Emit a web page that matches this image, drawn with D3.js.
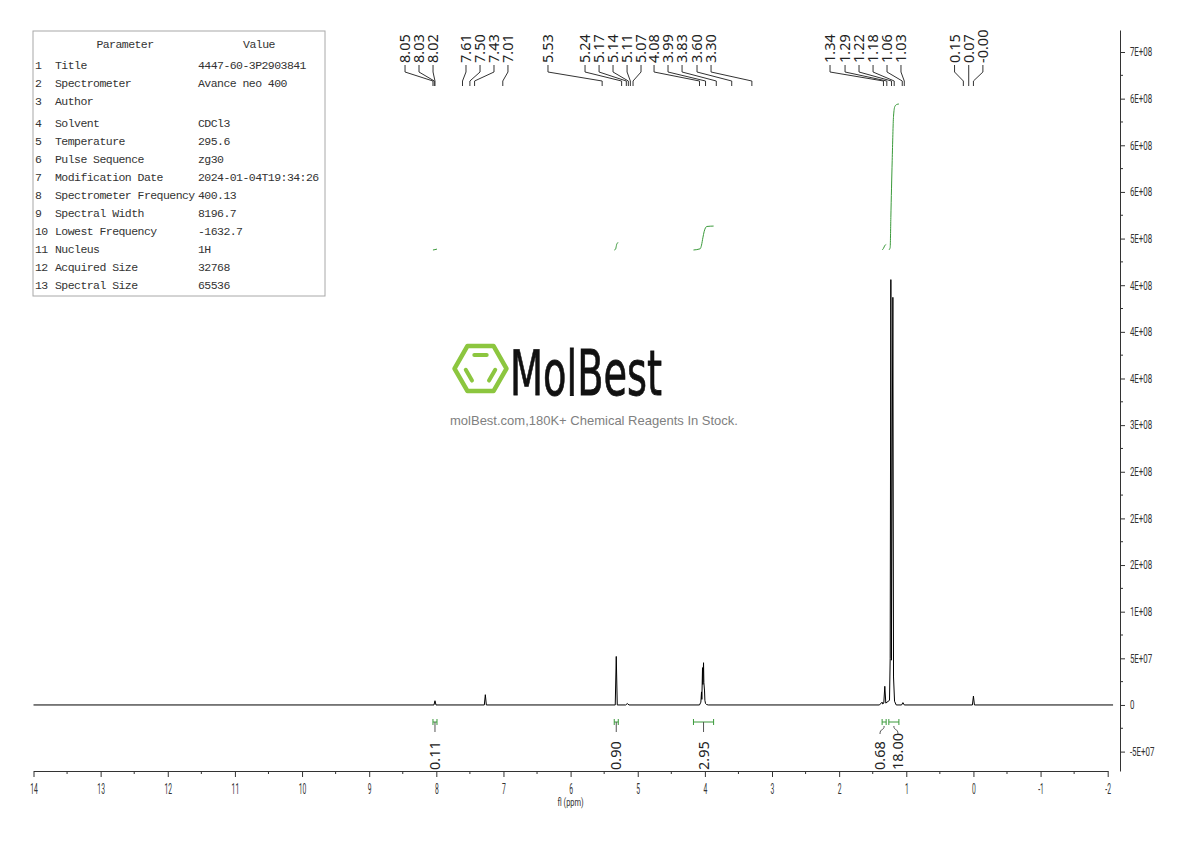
<!DOCTYPE html>
<html><head><meta charset="utf-8">
<script src="https://cdn.jsdelivr.net/npm/d3@7"></script>
<style>body{margin:0;background:#fff}svg{display:block}</style>
</head><body>
<svg id="c" width="1190" height="841"></svg>
<script>
// ---------------- data ----------------
const paramNames = ["Title","Spectrometer","Author","Solvent","Temperature","Pulse Sequence","Modification Date","Spectrometer Frequency","Spectral Width","Lowest Frequency","Nucleus","Acquired Size","Spectral Size"];
const paramValues = ["4447-60-3P2903841","Avance neo 400","","CDCl3","295.6","zg30","2024-01-04T19:34:26","400.13","8196.7","-1632.7","1H","32768","65536"];

// spectrum trace (ppm, intensity)
const specPpm = [14.0, 8.035,8.02,8.005, 7.285,7.27,7.255, 5.335,5.32,5.305, 5.18,5.155,5.13,
  4.08,4.06,4.05,4.045,4.035,4.03,4.02,4.015,4.005,4.0,3.99,3.975,3.95,
  1.40,1.36,1.35,1.335,1.32,1.305,1.25,1.24,1.23,1.222,1.20,1.19,1.175,1.15,
  1.07,1.05,1.03, 0.015,0.0,-0.015, -2.08];
const specInt = [0, 0,4.5e6,0, 0,1.1e7,0, 0,5.2e7,0, 0,1.5e6,0,
  0,3e6,1.4e7,6e6,4.0e7,2.2e7,4.53e7,2.4e7,1.5e7,5e6,1.5e6,5e5,0,
  0,3e6,1e6,2e6,2.0e7,2e6,5e6,5e7,4.56e8,4.8e7,4.37e8,3e7,4e6,0,
  0,2.5e6,0, 0,9.5e6,0, 0];

// peak picking labels
const peakLabels = ["8.05","8.03","8.02","7.61","7.50","7.43","7.01","5.53","5.24","5.17","5.14","5.11","5.07","4.08","3.99","3.83","3.60","3.30","1.34","1.29","1.22","1.18","1.06","1.03","0.15","0.07","-0.00"];
// label slot positions (ppm units) used by the label layout
const peakLabelSlots = [8.466,8.258,8.049,7.558,7.349,7.141,6.933,6.337,5.785,5.576,5.368,5.159,4.951,4.757,4.549,4.340,4.117,3.908,2.136,1.912,1.704,1.495,1.287,1.079,0.281,0.070,-0.141];

// integrals
const intFrom = [8.05,5.35,4.17,1.36,1.26];
const intTo = [7.99,5.29,3.87,1.30,1.11];
const intValues = ["0.11","0.90","2.95","0.68","18.00"];
const intCurvePpm = [
  [8.05,8.02,7.99],
  [5.35,5.33,5.32,5.31,5.29],
  [4.17,4.07,4.05,4.03,4.01,3.99,3.97,3.87],
  [1.36,1.34,1.32,1.30],
  [1.26,1.24,1.23,1.21,1.19,1.17,1.14,1.11]];
const intCurveVal = [
  [0,0.05,0.11],
  [0,0.1,0.45,0.8,0.9],
  [0,0.15,0.6,1.5,2.3,2.75,2.9,2.95],
  [0,0.2,0.55,0.68],
  [0,0.3,4,11,16.5,17.7,17.95,18.0]];

// axes
const xTickValues = [14,13,12,11,10,9,8,7,6,5,4,3,2,1,0,-1,-2];
const xTickLabels = ["14","13","12","11","10","9","8","7","6","5","4","3","2","1","0","-1","-2"];
const yTickValues = [-5e7,0,5e7,1e8,1.5e8,2e8,2.5e8,3e8,3.5e8,4e8,4.5e8,5e8,5.5e8,6e8,6.5e8,7e8];
const yTickLabels = ["-5E+07","0","5E+07","1E+08","2E+08","2E+08","2E+08","3E+08","4E+08","4E+08","4E+08","5E+08","6E+08","6E+08","6E+08","7E+08"];

// ---------------- drawing ----------------
const svg = d3.select("#c");
const x = d3.scaleLinear().domain([14,-2]).range([33.5,1107.7]);
const y = d3.scaleLinear().domain([-7.08e7,7.236e8]).range([771,30]);
const yI = d3.scaleLinear().domain([0,18]).range([250,104]);
const axisCol = "#333";
const green = "#3a9a3a";

// parameter table
const tbl = svg.append("g");
tbl.append("rect").attr("x",33).attr("y",31).attr("width",292).attr("height",265)
  .attr("fill","none").attr("stroke","#a8a8a8").attr("stroke-width",1);
const tf = {"font-family":"'Liberation Mono', 'DejaVu Sans Mono', monospace","font-size":"11.5px","letter-spacing":"-0.55px","fill":"#333"};
function tt(sel){Object.entries(tf).forEach(([k,v])=>sel.attr(k,v));return sel;}
tt(tbl.append("text").attr("x",125).attr("y",48).attr("text-anchor","middle").text("Parameter"));
tt(tbl.append("text").attr("x",259).attr("y",48).attr("text-anchor","middle").text("Value"));
paramNames.forEach((n,i)=>{
  const yy = 69 + i*18 + (i>=3?4:0);
  tt(tbl.append("text").attr("x",35).attr("y",yy).text(String(i+1)));
  tt(tbl.append("text").attr("x",55).attr("y",yy).text(n));
  tt(tbl.append("text").attr("x",198).attr("y",yy).text(paramValues[i]));
});

// watermark logo
const lg = svg.append("g");
const cx=480.5, cy=368.5, R=26;
const hex = d3.range(6).map(k=>[cx+R*Math.cos(k*Math.PI/3), cy+R*Math.sin(k*Math.PI/3)]);
lg.append("polygon").attr("points",hex.map(p=>p.join(",")).join(" "))
  .attr("fill","none").attr("stroke","#8cc63f").attr("stroke-width",4.5).attr("stroke-linejoin","round");
const Ri=15.5;
[[4,5],[3,2],[1,0]].forEach(([a,b])=>{
  const pa=[cx+Ri*Math.cos(a*Math.PI/3), cy+Ri*Math.sin(a*Math.PI/3)];
  const pb=[cx+Ri*Math.cos(b*Math.PI/3), cy+Ri*Math.sin(b*Math.PI/3)];
  const m=[(pa[0]+pb[0])/2,(pa[1]+pb[1])/2], f=0.8;
  lg.append("line").attr("x1",m[0]+(pa[0]-m[0])*f).attr("y1",m[1]+(pa[1]-m[1])*f)
    .attr("x2",m[0]+(pb[0]-m[0])*f).attr("y2",m[1]+(pb[1]-m[1])*f)
    .attr("stroke","#8cc63f").attr("stroke-width",4).attr("stroke-linecap","round");
});
lg.append("text").attr("x",510).attr("y",395).attr("font-family","'DejaVu Sans', sans-serif")
  .attr("font-size",62).attr("textLength",152).attr("lengthAdjust","spacingAndGlyphs")
  .attr("fill","#111").attr("stroke","#111").attr("stroke-width",0.8).text("MolBest");
lg.append("text").attr("x",594).attr("y",425).attr("text-anchor","middle")
  .attr("font-family","'Liberation Sans', Arial, sans-serif").attr("font-size",13)
  .attr("fill","#808080").text("molBest.com,180K+ Chemical Reagents In Stock.");

// x axis
const xAxis = svg.append("g").attr("transform","translate(0,771)")
  .call(d3.axisBottom(x).tickValues(xTickValues).tickFormat((d,i)=>xTickLabels[i]).tickSize(6).tickSizeOuter(0).tickPadding(6));
xAxis.select(".domain").attr("stroke",axisCol);
xAxis.selectAll(".tick line").attr("stroke",axisCol);
xAxis.selectAll("text").attr("font-family","Roboto, sans-serif").attr("font-size",15)
  .attr("fill","#333").attr("transform","scale(0.45,1)");
svg.append("g").selectAll("line").data(d3.range(13.5,-2,-1)).join("line")
  .attr("x1",d=>x(d)).attr("x2",d=>x(d)).attr("y1",771).attr("y2",774).attr("stroke",axisCol);
svg.append("text").attr("transform",`translate(${(x.range()[0]+x.range()[1])/2},806) scale(0.75,1)`)
  .attr("text-anchor","middle").attr("font-family","Roboto, sans-serif").attr("font-size",10)
  .attr("fill","#333").text("fl (ppm)");

// y axis
const yAxis = svg.append("g").attr("transform","translate(1120,0)")
  .call(d3.axisRight(y).tickValues(yTickValues).tickFormat((d,i)=>yTickLabels[i]).tickSize(5).tickSizeOuter(0).tickPadding(10));
yAxis.select(".domain").attr("stroke",axisCol);
yAxis.selectAll(".tick line").attr("stroke",axisCol);
yAxis.selectAll("text").attr("font-family","Roboto, sans-serif").attr("font-size",12)
  .attr("fill","#333").attr("transform","scale(0.66,1)");
svg.append("g").selectAll("line").data(d3.range(-2.5e7,7.1e8,5e7)).join("line")
  .attr("x1",1120).attr("x2",1123).attr("y1",d=>y(d)).attr("y2",d=>y(d)).attr("stroke",axisCol);

// spectrum
const spec = specPpm.map((p,i)=>[p,specInt[i]]);
svg.append("path").datum(spec).attr("fill","none").attr("stroke","#000").attr("stroke-width",1)
  .attr("d",d3.line().x(d=>x(d[0])).y(d=>y(d[1])));

// integral curves
intCurvePpm.forEach((arr,k)=>{
  const pts = arr.map((p,i)=>[p,intCurveVal[k][i]]);
  svg.append("path").datum(pts).attr("fill","none").attr("stroke",green).attr("stroke-width",1)
    .attr("d",d3.line().x(d=>x(d[0])).y(d=>yI(d[1])).curve(d3.curveMonotoneX));
});

// integral brackets + labels
const by = 722;
const centers = intFrom.map((f,i)=>(x(f)+x(intTo[i]))/2);
const lx = centers.slice();
for(let it=0;it<20;it++){
  for(let i=1;i<lx.length;i++){
    const d = lx[i]-lx[i-1];
    if(d<18){const s=(18-d)/2; lx[i]+=s; lx[i-1]-=s;}
  }
}
intFrom.forEach((f,i)=>{
  const xa=x(f), xb=x(intTo[i]), xc=centers[i];
  svg.append("path").attr("d",`M${xa},${by-3}V${by+3}M${xa},${by}H${xb}M${xb},${by-3}V${by+3}`)
    .attr("fill","none").attr("stroke",green).attr("stroke-width",1);
  if(Math.abs(lx[i]-xc)>1){
    svg.append("path").attr("d",`M${xc},${by+4}C${xc},${by+9} ${lx[i]},${by+6} ${lx[i]},${by+12}`)
      .attr("fill","none").attr("stroke","#555").attr("stroke-width",1);
  } else {
    svg.append("line").attr("x1",xc).attr("x2",xc).attr("y1",by).attr("y2",by+10)
      .attr("stroke","#555").attr("stroke-width",1);
  }
  svg.append("text").attr("transform",`translate(${lx[i]},770) rotate(-90)`).attr("dy","0.36em")
    .attr("font-family","'Noto Sans', 'Open Sans', sans-serif").attr("font-size",14.5).attr("fill","#222")
    .text(intValues[i]);
});

// peak labels
peakLabels.forEach((t,i)=>{
  const lxp = x(peakLabelSlots[i]), px = x(parseFloat(t));
  svg.append("text").attr("transform",`translate(${lxp},63) rotate(-90)`).attr("dy","0.36em")
    .attr("font-family","'Noto Sans', 'Open Sans', sans-serif").attr("font-size",14.5).attr("fill","#222").text(t);
  svg.append("path").attr("d",`M${lxp},65V72L${px},81V86`).attr("fill","none")
    .attr("stroke","#333").attr("stroke-width",1);
});
</script>
</body></html>
